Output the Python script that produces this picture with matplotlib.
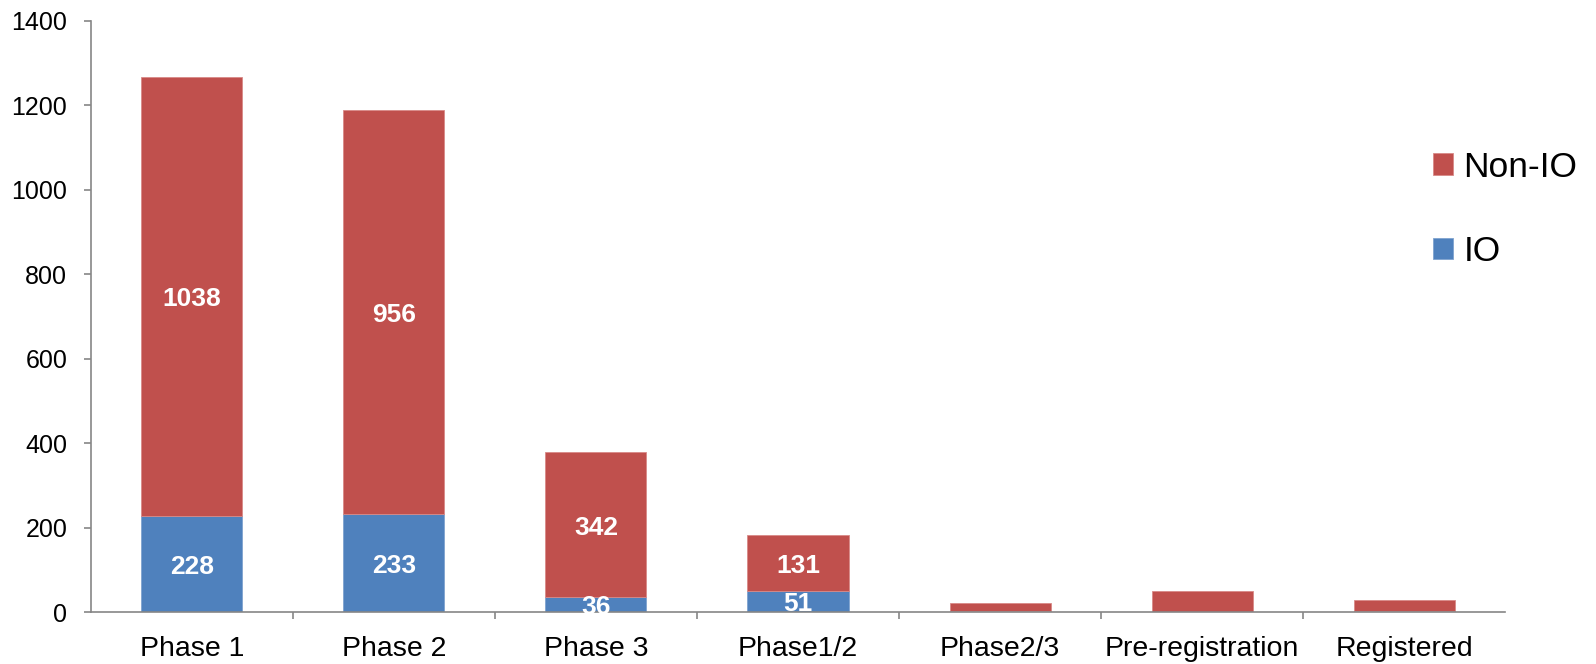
import matplotlib
matplotlib.use("Agg")
import matplotlib.pyplot as plt
import numpy as np
from matplotlib.ticker import FixedLocator

plt.rcParams["font.family"] = ["Liberation Sans", "DejaVu Sans"]

phases = ["Phase 1", "Phase 2", "Phase 3", "Phase1/2", "Phase2/3",
          "Pre-registration", "Registered"]
io = [228, 233, 36, 51, 4, 1, 2]
non_io = [1038, 956, 342, 131, 18, 49, 27]
# only the bigger segments carry a value label
label_min = 30

RED, BLUE, AXIS = "#C0504D", "#4F81BD", "#868686"

fig = plt.figure(figsize=(15.96, 6.64), dpi=100)
ax = fig.add_axes([0.057, 0.078, 0.886, 0.891])

x = np.arange(len(phases))
b_io = ax.bar(x, io, width=0.5, color=BLUE, edgecolor="#7FA3CF", linewidth=0.6, label="IO")
b_non = ax.bar(x, non_io, width=0.5, bottom=io, color=RED, edgecolor="#D88A88",
               linewidth=0.6, label="Non-IO")


def value_label(xc, yc, val):
    ax.annotate(str(val), (xc, yc), xytext=(0, -2), textcoords="offset points",
                ha="center", va="center", color="white", fontsize=19, fontweight="bold")


for xi, lo, hi in zip(x, io, non_io):
    if lo >= label_min:
        value_label(xi, lo / 2, lo)
    if hi >= label_min * 3:
        value_label(xi, lo + hi / 2, hi)

ax.set_xlim(-0.5, len(phases) - 0.5)
ax.set_ylim(0, 1400)
ax.set_yticks(range(0, 1401, 200))
ax.set_xticks(x)
ax.set_xticklabels(phases)
ax.xaxis.set_minor_locator(FixedLocator(np.arange(0.5, len(phases) - 0.5, 1)))
ax.tick_params(axis="x", which="major", length=0, pad=17, labelsize=20.5)
ax.tick_params(axis="x", which="minor", length=5, color=AXIS, width=1.2, direction="out")
ax.tick_params(axis="y", length=5, color=AXIS, width=1.2, labelsize=18, pad=12)

for side in ("top", "right"):
    ax.spines[side].set_visible(False)
for side in ("left", "bottom"):
    ax.spines[side].set_color(AXIS)
    ax.spines[side].set_linewidth(1.2)

handles = [b_non, b_io]
fig.legend(handles, ["Non-IO", "IO"], loc="upper left",
           bbox_to_anchor=(0.887, 0.80), frameon=False, fontsize=25.5,
           handlelength=0.55, handleheight=0.55, handletextpad=0.3,
           labelspacing=1.45, borderpad=0)

fig.savefig("out.png", dpi=100)
